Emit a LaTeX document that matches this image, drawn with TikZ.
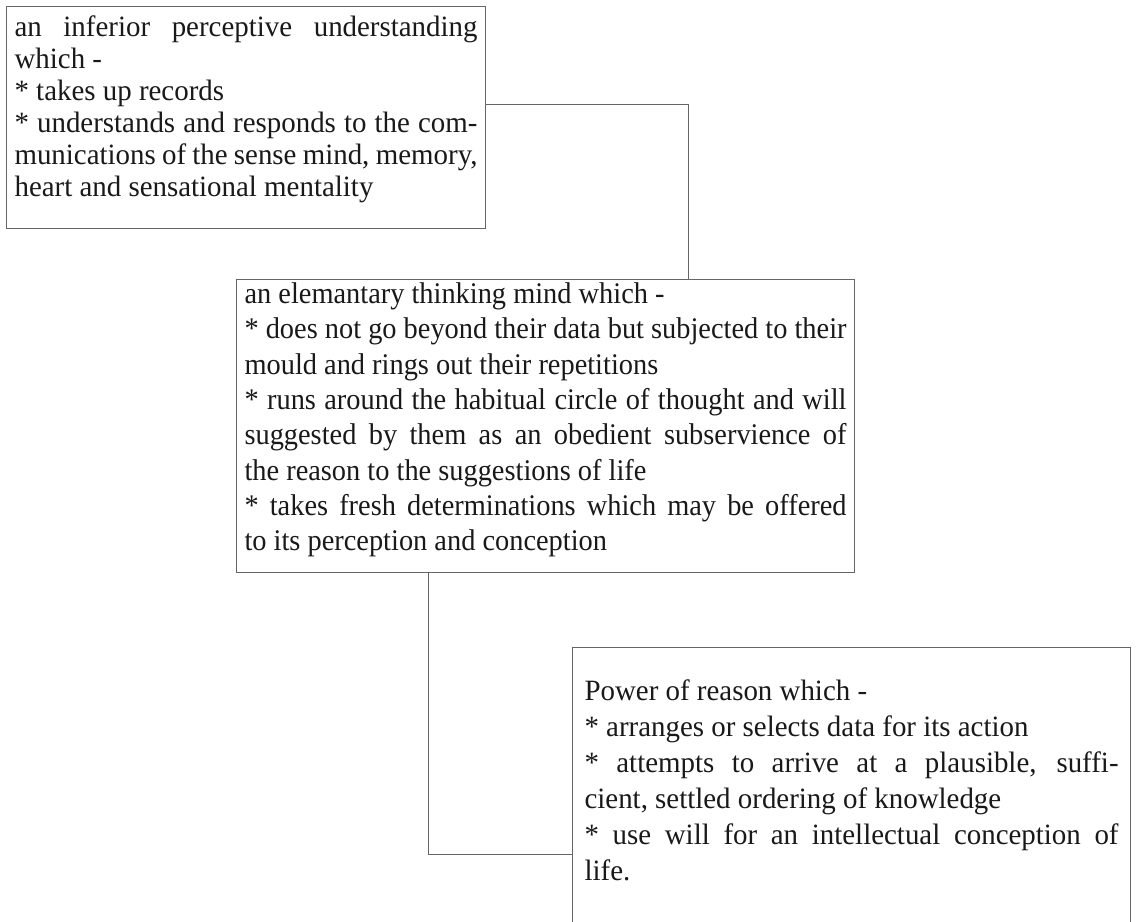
\documentclass[tikz,border=0pt]{standalone}
\usepackage{fontspec}
\usepackage{graphicx}
\setmainfont{Liberation Serif}
\setlength{\parindent}{0pt}
\tolerance=10000
\hyphenpenalty=10000

% squeeze a justified block into a given width (slightly condensed type)
\newlength{\linew}
\newlength{\blockw}
\newcommand{\squeezetext}[3]{%
  \settowidth{\linew}{#2}%
  \pgfmathsetmacro{\sx}{min(0.98,(#1)/\linew)}%
  \pgfmathsetlength{\blockw}{(#1)/\sx}%
  \scalebox{\sx}[1]{\parbox[t]{\blockw}{#3}}}

\tikzstyle{every node}=[inner ysep=4pt, text=black!90]
\tikzstyle{textbox}=[draw=black!60, line width=1.1pt, anchor=north west]
\tikzstyle{link}=[draw=black!60, line width=1.1pt]

\begin{document}
\begin{tikzpicture}[x=1pt,y=-1pt]
    \useasboundingbox (0,0) rectangle (1137,921);
    \clip (0,0) rectangle (1137,921);

    \node [textbox, inner xsep=8pt, text height=26pt, text depth=188pt,
           font=\fontsize{29.5pt}{32pt}\selectfont] (perceptive) at (6,6)
        {\squeezetext{463pt}{* understands and responds to the com-}{%
        an inferior perceptive understanding\linebreak which -\par
        * takes up records\par
        * understands and responds to the com-\linebreak
        munications of the sense mind, memory,\linebreak
        heart and sensational mentality}};

    \node [textbox, inner xsep=8pt, text height=20pt, text depth=265pt,
           font=\fontsize{30pt}{35.3pt}\selectfont] (thinking) at (236,279)
        {\squeezetext{602pt}{* does not go beyond their data but subjected to their}{%
        an elemantary thinking mind which -\par
        * does not go beyond their data but subjected to their\linebreak
        mould and rings out their repetitions\par
        * runs around the habitual circle of thought and will\linebreak
        suggested by them as an obedient subservience of\linebreak
        the reason to the suggestions of life\par
        * takes fresh determinations which may be offered\linebreak
        to its perception and conception}};

    \node [textbox, inner xsep=12pt, text height=49pt, text depth=219pt,
           font=\fontsize{29.5pt}{36pt}\selectfont] (reason) at (572,647)
        {\squeezetext{534pt}{* use will for an intellectual conception of}{%
        Power of reason which -\par
        * arranges or selects data for its action\par
        * attempts to arrive at a plausible, suffi-\linebreak
        cient, settled ordering of knowledge\par
        * use will for an intellectual conception of\linebreak
        life.}};

    % connectors
    \draw [link] ([yshift=13pt]perceptive.east) -| ([xshift=143pt]thinking.north);
    \draw [link] ([xshift=-117pt]thinking.south) |- ([yshift=-69pt]reason.west);
\end{tikzpicture}
\end{document}
